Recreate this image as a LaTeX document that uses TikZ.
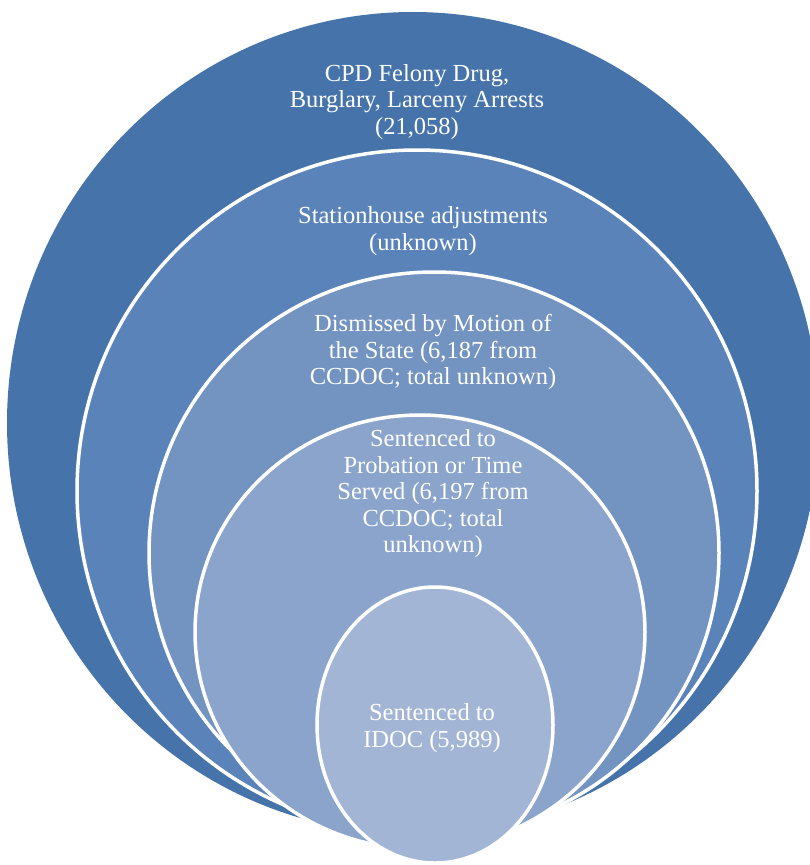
\documentclass[tikz,border=0pt]{standalone}
\usepackage{fontspec}
\setmainfont{Liberation Serif}
\usetikzlibrary{shapes.geometric}
\definecolor{cA}{RGB}{70,116,170}
\definecolor{cB}{RGB}{90,131,185}
\definecolor{cC}{RGB}{115,147,193}
\definecolor{cD}{RGB}{138,164,203}
\definecolor{cE}{RGB}{162,181,213}
\tikzset{
  ring/.style={ellipse, inner sep=0pt, draw=white, line width=3.5pt},
  lbl/.style={text=white, align=center, font=\fontsize{24.5}{26.5}\selectfont, inner sep=0pt}
}
\begin{document}
\begin{tikzpicture}[x=1pt,y=-1pt]
\useasboundingbox (0,0) rectangle (810,865);
\clip (0,0) rectangle (810,865);
\fill[white] (0,0) rectangle (810,865);
\node[ring, draw=none, fill=cA, minimum width=812pt, minimum height=822pt] (e1) at (413,423) {};
\node[ring, fill=cB, minimum width=680pt, minimum height=682pt] (e2) at (417,491) {};
\node[ring, fill=cC, minimum width=570pt, minimum height=562pt] (e3) at (434,553) {};
\node[ring, fill=cD, minimum width=450pt, minimum height=434pt] (e4) at (420,632) {};
\node[ring, fill=cE, minimum width=236pt, minimum height=276pt] (e5) at (435,725) {};
\node[lbl] (t1) at (417,102) {CPD Felony Drug,\\Burglary, Larceny Arrests\\(21,058)};
\node[lbl] (t2) at (423,231) {Stationhouse adjustments\\(unknown)};
\node[lbl] (t3) at (433,352) {Dismissed by Motion of\\the State (6,187 from\\CCDOC; total unknown)};
\node[lbl] (t4) at (433,494) {Sentenced to\\Probation or Time\\Served (6,197 from\\CCDOC; total\\unknown)};
\node[lbl] (t5) at (432,728) {Sentenced to\\IDOC (5,989)};
\end{tikzpicture}
\end{document}
